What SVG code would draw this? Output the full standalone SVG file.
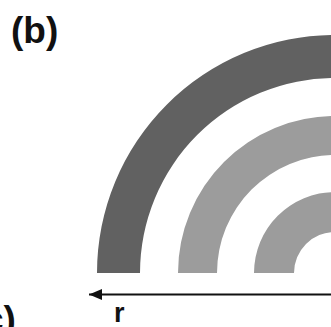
<svg xmlns="http://www.w3.org/2000/svg" width="331" height="327" viewBox="0 0 331 327">
  <defs>
    <style>
      .lbl { font-family: "Liberation Sans", Arial, sans-serif; font-weight: bold; fill: #111; }
      .dark { fill: #616161; }
      .light { fill: #9c9c9c; }
    </style>
    <marker id="ah" viewBox="0 0 13 11" refX="13" refY="5.5" markerWidth="13" markerHeight="11" markerUnits="userSpaceOnUse" orient="auto">
      <path d="M0,0 L13,5.5 L0,11 Z" fill="#111"/>
    </marker>
  </defs>
  <rect width="331" height="327" fill="#ffffff"/>
  <g id="rings">
    <path id="ring1" class="dark" d="M97,273 A238,238 0 0 1 573,273 L530,273 A195,195 0 0 0 140,273 Z"/>
    <path id="ring2" class="light" d="M178,273 A157,157 0 0 1 492,273 L453,273 A118,118 0 0 0 217,273 Z"/>
    <path id="ring3" class="light" d="M254,273 A81,81 0 0 1 416,273 L376,273 A41,41 0 0 0 294,273 Z"/>
  </g>
  <g id="connectors">
    <line x1="331" y1="294.5" x2="89" y2="294.5" stroke="#111" stroke-width="1.8" marker-end="url(#ah)"/>
  </g>
  <g id="labels">
    <text class="lbl" x="11" y="43" font-size="37">(b)</text>
    <text class="lbl" x="114" y="322" font-size="27">r</text>
    <text class="lbl" x="-17" y="332" font-size="37">c)</text>
  </g>
</svg>
